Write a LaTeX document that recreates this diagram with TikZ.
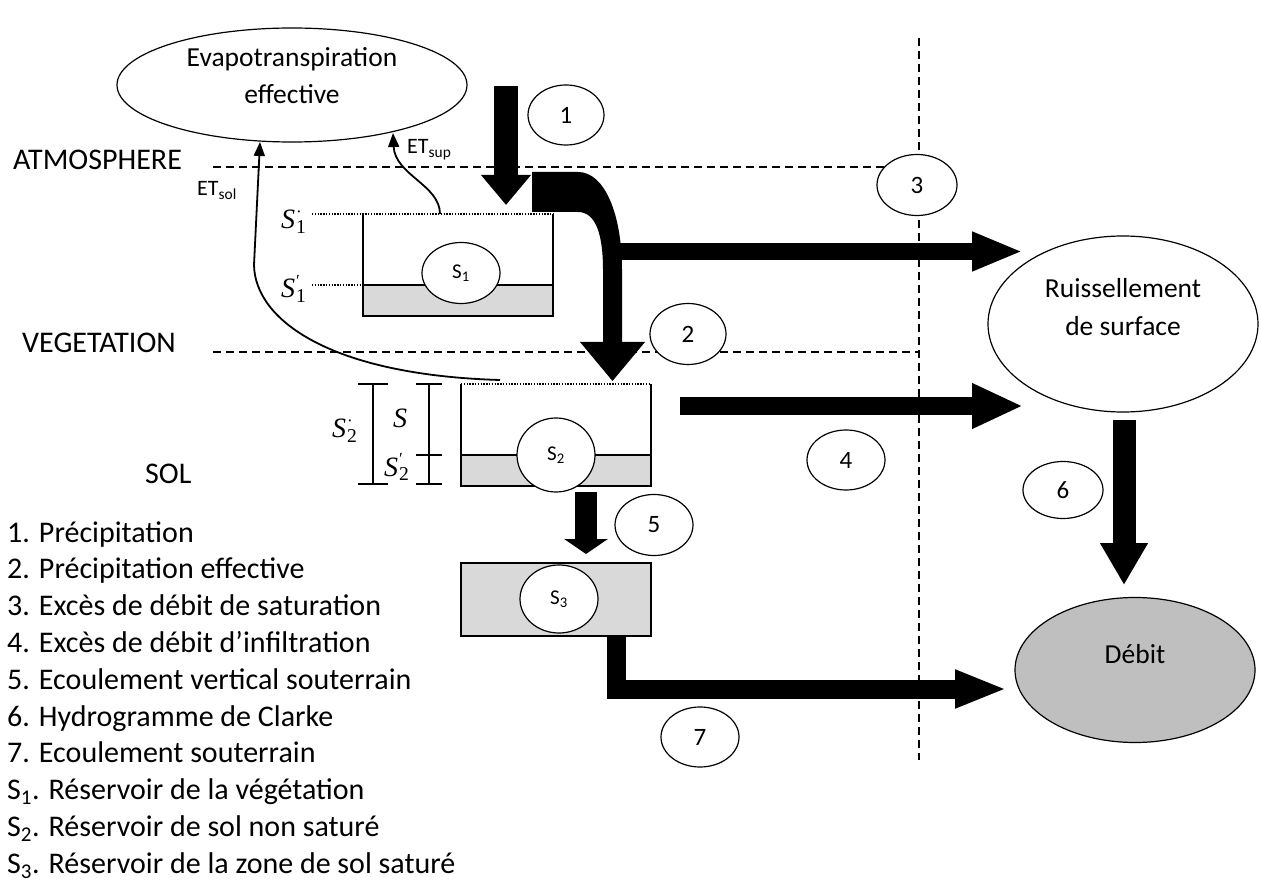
\documentclass[tikz,border=0pt]{standalone}
\usepackage{fontspec}
\setmainfont{Carlito}
\newfontfamily\levelfont{Liberation Serif}
\usetikzlibrary{arrows.meta,shapes.geometric}

\definecolor{resgray}{HTML}{D9D9D9}
\definecolor{outgray}{HTML}{BFBFBF}
\newcommand{\setfs}[2]{\fontsize{#1}{#2}\selectfont}
% level symbol: italic S with a mark above the index
\newcommand{\lvl}[2]{\textit{S}\kern1pt\rlap{\raisebox{0.42em}{\fontsize{17}{17}\selectfont #1}}\textsubscript{#2}}

\tikzset{
  boxline/.style={line width=1.5pt},
  dashline/.style={line width=1.4pt, dash pattern=on 8pt off 5pt},
  dotline/.style={line width=1.4pt, dash pattern=on 1.4pt off 1.4pt},
  tag/.style={ellipse, draw, line width=1.2pt, fill=white, minimum width=78pt,
    minimum height=60pt, inner sep=0pt, font=\setfs{25}{30}},
  bigoval/.style={ellipse, draw, line width=1.2pt, inner sep=0pt},
  resoval/.style={ellipse, draw, line width=1.2pt, fill=white, minimum width=78pt,
    inner sep=0pt, font=\setfs{21}{25}},
  flow/.style n args={3}{line width=#1, line join=miter, -{Triangle[length=#2,width=#3]}},
  etarrow/.style={line width=1.8pt, -{Triangle[length=14pt,width=11pt]}},
  layer/.style={anchor=base west, inner sep=0pt, font=\setfs{30}{36}},
  ovaltext/.style={anchor=base, inner sep=0pt, font=\setfs{27.5}{33}},
  level/.style={anchor=base west, inner sep=0pt, font=\levelfont\setfs{28}{32}},
  etlabel/.style={anchor=base west, inner sep=0pt, font=\setfs{22}{26}},
  legend/.style={anchor=base west, inner sep=0pt, font=\setfs{30}{36}},
}

\begin{document}
\begin{tikzpicture}[x=1pt,y=-1pt]
\useasboundingbox (0,0) rectangle (1261,882);

% layer boundaries
\draw[dashline] (213,167) -- (919,167);
\draw[dashline] (213,352) -- (919,352);
\draw[dashline] (919,38) -- (919,760);

% layer names
\node[layer] (atm) at (13,170) {ATMOSPHERE};
\node[layer] (veg) at (22,353) {VEGETATION};
\node[layer] (sol) at (145,483) {SOL};

% outputs
\node[bigoval, minimum width=350pt, minimum height=114pt] (evap) at (292,85) {};
\node[ovaltext] (evapa) at (292,67) {Evapotranspiration};
\node[ovaltext] (evapb) at (292,104) {effective};
\node[bigoval, minimum width=270pt, minimum height=176pt] (ruis) at (1123,324) {};
\node[ovaltext] (ruisa) at (1123,298) {Ruissellement};
\node[ovaltext] (ruisb) at (1123,336) {de surface};
\node[bigoval, fill=outgray, minimum width=240pt, minimum height=145pt] (debit) at (1135,670) {};
\node[ovaltext] (debitt) at (1135,663) {Débit};

% vegetation reservoir S1
\draw[dotline] (312,214) -- (553,214);
\draw[dotline] (312,285) -- (363,285);
\fill[resgray] (363,285) rectangle (553,316);
\draw[boxline] (363,214) -- (363,316) -- (553,316) -- (553,214);
\draw[boxline] (363,285) -- (553,285);
\node[resoval, minimum height=61pt] (s1) at (461,273) {S\textsubscript{1}};
\node[level] (s1top) at (281,229) {\lvl{·}{1}};
\node[level] (s1low) at (281,298) {\lvl{′}{1}};

% unsaturated soil reservoir S2
\draw[dotline] (461,384) -- (651,384);
\fill[resgray] (461,455) rectangle (651,486);
\draw[boxline] (461,384) -- (461,486) -- (651,486) -- (651,384);
\draw[boxline] (461,455) -- (651,455);
\node[resoval, minimum height=74pt] (s2) at (556,455) {S\textsubscript{2}};

% S2 level brackets
\draw[boxline] (373,384) -- (373,484);
\draw[boxline] (358,384) -- (388,384);
\draw[boxline] (358,484) -- (388,484);
\draw[boxline] (429,384) -- (429,484);
\draw[boxline] (416,384) -- (442,384);
\draw[boxline] (416,455) -- (442,455);
\draw[boxline] (416,484) -- (442,484);
\node[level] (s2top) at (332,438) {\lvl{·}{2}};
\node[level] (s2mid) at (393,428) {\textit{S}};
\node[level] (s2low) at (384,476) {\lvl{′}{2}};

% saturated zone reservoir S3
\node[draw, boxline, fill=resgray, minimum width=190pt, minimum height=73pt,
  inner sep=0pt] (s3box) at (556,599.5) {};
\node[resoval, minimum height=68pt] (s3) at (559,599) {S\textsubscript{3}};

% evapotranspiration
\coordinate (etsupfrom) at (440,214);
\coordinate (etsupto) at (393,133);
\draw[etarrow] (etsupfrom) .. controls (440,185) and (395,175) .. (etsupto);
\node[etlabel] (etsup) at (407,154) {ET\textsubscript{sup}};
\coordinate (etsolfrom) at (500,380);
\coordinate (etsolbend) at (254,265);
\coordinate (etsolto) at (260,142);
\draw[etarrow] (etsolfrom) .. controls (330,375) and (255,320) .. (etsolbend) -- (etsolto);
\node[etlabel] (etsol) at (197,196) {ET\textsubscript{sol}};

% precipitation
\coordinate (p1from) at (506,86);
\coordinate (p1to) at (506,205);
\draw[flow={24pt}{30pt}{48pt}] (p1from) -- (p1to);

% effective precipitation, bending down into S2
\fill (532,172) -- (578,172) .. controls (605,172) and (622,215) .. (622,270)
  -- (622,342) -- (645,342) -- (612.5,381) -- (580,342) -- (603,342) -- (603,270)
  .. controls (603,235) and (596,212) .. (578,212) -- (532,212) -- cycle;

% saturation excess
\coordinate (q3from) at (612,251.5);
\coordinate (q3to) at (1023,251.5);
\draw[flow={17pt}{51pt}{36pt}] (q3from) -- (q3to);

% infiltration excess
\coordinate (q4from) at (680,406);
\coordinate (q4to) at (1023,406);
\draw[flow={18pt}{51pt}{42pt}] (q4from) -- (q4to);

% vertical subsurface flow
\coordinate (q5from) at (586,492);
\coordinate (q5to) at (586,554);
\draw[flow={22pt}{15pt}{43pt}] (q5from) -- (q5to);

% Clarke hydrograph
\coordinate (q6from) at (1124,420);
\coordinate (q6to) at (1124,585);
\draw[flow={23pt}{42pt}{45pt}] (q6from) -- (q6to);

% groundwater flow
\coordinate (q7from) at (616,636);
\coordinate (q7to) at (1007,689);
\draw[flow={19pt}{52pt}{35pt}] (q7from) |- (q7to);

% process numbers
\node[tag, minimum width=76pt] (n1) at (566,115) {1};
\node[tag, minimum width=76pt, minimum height=61pt] (n2) at (688,334) {2};
\node[tag, minimum width=80pt, minimum height=61pt] (n3) at (917,185) {3};
\node[tag] (n4) at (846,460) {4};
\node[tag, minimum height=61pt] (n5) at (654,525) {5};
\node[tag, minimum width=80pt, minimum height=57pt] (n6) at (1063,490) {6};
\node[tag] (n7) at (700,737) {7};

% key
\foreach \entry [count=\i] in {
  {1. Précipitation},
  {2. Précipitation effective},
  {3. Excès de débit de saturation},
  {4. Excès de débit d’infiltration},
  {5. Ecoulement vertical souterrain},
  {6. Hydrogramme de Clarke},
  {7. Ecoulement souterrain},
  {S\textsubscript{1}. Réservoir de la végétation},
  {S\textsubscript{2}. Réservoir de sol non saturé},
  {S\textsubscript{3}. Réservoir de la zone de sol saturé}}
  \node[legend] (key\i) at (7,{542+36.8*(\i-1)}) {\entry};

\end{tikzpicture}
\end{document}
